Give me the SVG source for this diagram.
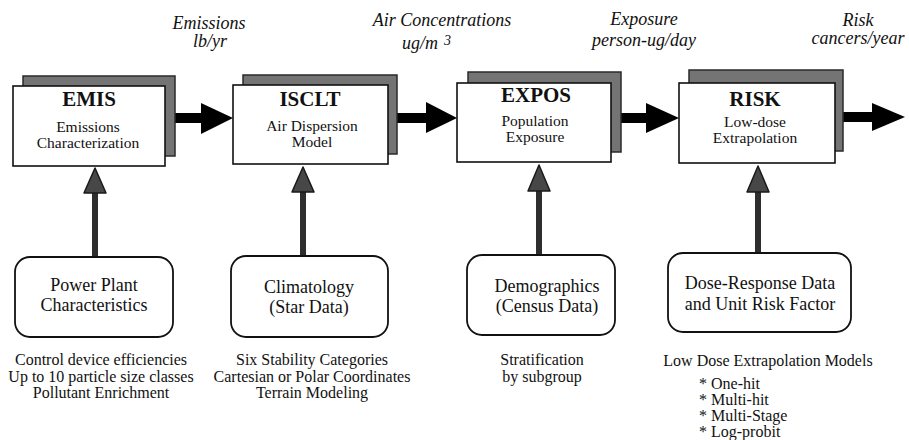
<svg xmlns="http://www.w3.org/2000/svg" width="909" height="440" viewBox="0 0 909 440">
<defs>
<style>
.bg{fill:#ffffff}
.shadow{fill:#747474;stroke:#2a2a2a;stroke-width:1.5}
.box{fill:#ffffff;stroke:#111;stroke-width:1.6}
.rbox{fill:#ffffff;stroke:#111;stroke-width:1.8}
.title{font-family:"Liberation Serif","Times New Roman",serif;font-weight:bold;font-size:21px;fill:#111;text-anchor:middle}
.sub{font-family:"Liberation Serif","Times New Roman",serif;font-size:15.5px;fill:#111;text-anchor:middle}
.in{font-family:"Liberation Serif","Times New Roman",serif;font-size:18px;fill:#111;text-anchor:middle}
.note{font-family:"Liberation Serif","Times New Roman",serif;font-size:16px;fill:#111;text-anchor:middle}
.bul{font-family:"Liberation Serif","Times New Roman",serif;font-size:16px;fill:#111}
.hdr{font-family:"Liberation Serif","Times New Roman",serif;font-style:italic;font-size:18px;fill:#111;text-anchor:middle}
.sup{font-family:"Liberation Serif","Times New Roman",serif;font-style:italic;font-size:14px;fill:#111}
.main{fill:#000}
.uphead{fill:#474747;stroke:#1a1a1a;stroke-width:1.5;stroke-linejoin:round}
.upshaft{fill:#2e2e2e}
</style>
</defs>
<rect class="bg" x="0" y="0" width="909" height="440"/>

<g id="labels">
<text class="hdr" x="209" y="29">Emissions</text>
<text class="hdr" x="210" y="47">lb/yr</text>
<text class="hdr" x="442" y="26">Air Concentrations</text>
<text class="hdr" x="402" y="49" style="text-anchor:start">ug/m</text>
<text class="sup" x="444" y="45">3</text>
<text class="hdr" x="644" y="25">Exposure</text>
<text class="hdr" x="644" y="46">person-ug/day</text>
<text class="hdr" x="858" y="26">Risk</text>
<text class="hdr" x="858" y="44">cancers/year</text>
</g>

<g id="connectors">
<!-- main flow arrows -->
<rect class="main" x="165" y="113" width="38" height="10"/>
<polygon class="main" points="201,103 233,118 201,134"/>
<rect class="main" x="388" y="113" width="40" height="10"/>
<polygon class="main" points="426,102 457,118 426,133"/>
<rect class="main" x="611" y="113" width="37" height="10"/>
<polygon class="main" points="646,103 679,118 646,133"/>
<rect class="main" x="835" y="112" width="39" height="10"/>
<polygon class="main" points="872,103 905,117 872,131"/>
<!-- input arrows -->
<rect class="upshaft" x="92" y="190" width="6" height="67"/>
<polygon class="uphead" points="95,168 106,193 84,193"/>
<rect class="upshaft" x="300" y="190" width="6" height="66"/>
<polygon class="uphead" points="303,167 314,192 292,192"/>
<rect class="upshaft" x="536" y="189" width="6" height="66"/>
<polygon class="uphead" points="539,165 550,191 528,191"/>
<rect class="upshaft" x="755" y="189" width="6" height="64"/>
<polygon class="uphead" points="758,166 769,192 747,192"/>
</g>

<g id="node-emis">
<rect class="shadow" x="23" y="76" width="152" height="80"/>
<rect class="box" x="13" y="86" width="152" height="80"/>
<text class="title" x="89" y="106">EMIS</text>
<text class="sub" x="88" y="132">Emissions</text>
<text class="sub" x="88" y="148">Characterization</text>
</g>

<g id="node-isclt">
<rect class="shadow" x="243" y="75" width="154" height="79"/>
<rect class="box" x="233" y="85" width="155" height="79"/>
<text class="title" x="310" y="106">ISCLT</text>
<text class="sub" x="312" y="131">Air Dispersion</text>
<text class="sub" x="312" y="147">Model</text>
</g>

<g id="node-expos">
<rect class="shadow" x="468" y="72" width="153" height="80"/>
<rect class="box" x="457" y="83" width="154" height="79"/>
<text class="title" x="536" y="102">EXPOS</text>
<text class="sub" x="535" y="126">Population</text>
<text class="sub" x="535" y="142">Exposure</text>
</g>

<g id="node-risk">
<rect class="shadow" x="689" y="70" width="154" height="81"/>
<rect class="box" x="679" y="83" width="156" height="80"/>
<text class="title" x="755" y="106">RISK</text>
<text class="sub" x="755" y="127">Low-dose</text>
<text class="sub" x="755" y="143">Extrapolation</text>
</g>

<g id="node-powerplant">
<rect class="rbox" x="15" y="257" width="158" height="80" rx="15"/>
<text class="in" x="94" y="291">Power Plant</text>
<text class="in" x="94" y="311">Characteristics</text>
<text class="note" x="101" y="365">Control device efficiencies</text>
<text class="note" x="101" y="382">Up to 10 particle size classes</text>
<text class="note" x="101" y="398">Pollutant Enrichment</text>
</g>

<g id="node-climatology">
<rect class="rbox" x="231" y="256" width="157" height="81" rx="15"/>
<text class="in" x="309" y="293">Climatology</text>
<text class="in" x="309" y="313">(Star Data)</text>
<text class="note" x="312" y="365">Six Stability Categories</text>
<text class="note" x="312" y="382">Cartesian or Polar Coordinates</text>
<text class="note" x="312" y="398">Terrain Modeling</text>
</g>

<g id="node-demographics">
<rect class="rbox" x="467" y="255" width="148" height="80" rx="15"/>
<text class="in" x="547" y="292">Demographics</text>
<text class="in" x="547" y="312">(Census Data)</text>
<text class="note" x="542" y="365">Stratification</text>
<text class="note" x="542" y="382">by subgroup</text>
</g>

<g id="node-doseresponse">
<rect class="rbox" x="668" y="253" width="183" height="79" rx="15"/>
<text class="in" x="760" y="289">Dose-Response Data</text>
<text class="in" x="760" y="310">and Unit Risk Factor</text>
<text class="note" x="768" y="366">Low Dose Extrapolation Models</text>
<text class="bul" x="699" y="389">* One-hit</text>
<text class="bul" x="699" y="405">* Multi-hit</text>
<text class="bul" x="699" y="421">* Multi-Stage</text>
<text class="bul" x="699" y="437">* Log-probit</text>
</g>
</svg>
